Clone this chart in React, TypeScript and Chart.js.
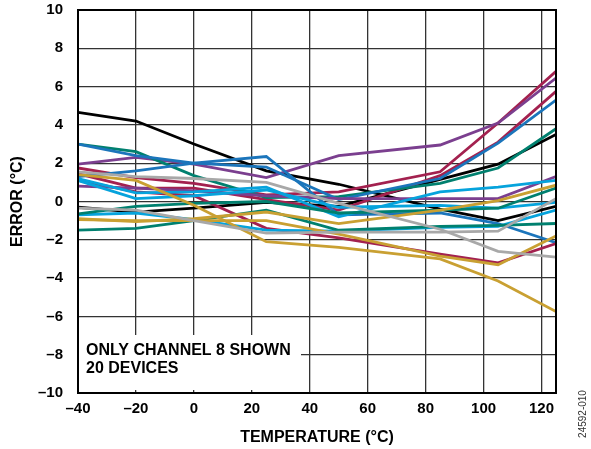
import React, { useEffect, useRef } from "react";
import { Chart, registerables } from "chart.js";

Chart.register(...registerables);

// Temperatures (°C) at which each device was measured
const temperatures = [-40, -20, 0, 25, 50, 85, 105, 125];

// Axis tick values
const xTickValues = [-40, -20, 0, 20, 40, 60, 80, 100, 120];
const yTickValues = [-10, -8, -6, -4, -2, 0, 2, 4, 6, 8, 10];

// Error (°C) per device
const black1 = [4.65, 4.2, 3.0, 1.6, 0.9, -0.4, -1.0, -0.25];
const black2 = [-0.3, -0.55, -0.35, -0.05, -0.25, 1.15, 1.95, 3.5];
const purple1 = [1.95, 2.3, 1.95, 1.25, 2.4, 2.95, 4.1, 6.45];
const purple2 = [0.8, 0.7, 0.55, 0.3, 0.15, 0.15, 0.15, 1.3];
const blue1 = [3.0, 2.4, 2.0, 2.35, -0.7, -0.6, -1.15, -2.15];
const blue2 = [1.3, 1.6, 2.0, 1.8, 0.1, 1.2, 3.05, 5.3];
const teal1 = [3.0, 2.6, 1.35, 0.2, 0.25, 0.95, 1.75, 3.8];
const teal2 = [-1.5, -1.4, -1.0, -0.45, -1.5, -1.3, -1.25, -1.15];
const teal3 = [-0.65, -0.25, -0.1, 0.0, -0.6, -0.45, -0.35, 0.7];
const crimson1 = [1.75, 1.25, 0.95, 0.35, 0.5, 1.55, 4.1, 6.8];
const crimson2 = [1.45, 0.7, 0.7, 0.1, -0.45, 1.35, 3.1, 5.75];
const crimson3 = [1.1, 0.5, 0.3, -1.4, -1.9, -2.75, -3.2, -2.2];
const gray1 = [1.55, 1.3, 1.2, 1.0, -0.1, -1.45, -2.6, -2.9];
const gray2 = [-0.35, -0.45, -1.0, -1.65, -1.6, -1.6, -1.55, 0.15];
const gold1 = [1.4, 1.1, -0.2, -2.1, -2.4, -3.0, -4.15, -5.75];
const gold2 = [-0.9, -1.05, -0.9, -0.55, -1.15, -0.45, 0.05, 0.85];
const gold3 = [-0.95, -1.0, -1.0, -1.0, -1.7, -2.85, -3.3, -1.8];
const lightBlue1 = [1.2, 0.45, 0.5, 0.75, -0.8, 0.5, 0.75, 1.1];
const lightBlue2 = [1.1, 0.15, 0.3, 0.6, -0.3, -0.2, -0.35, -0.05];
const lightBlue3 = [-0.7, -0.6, -0.95, -1.5, -1.55, -1.35, -1.3, -0.45];

const BLACK = "#000000";
const PURPLE = "#7b3f8f";
const BLUE = "#1b75bb";
const TEAL = "#00806f";
const CRIMSON = "#a3214f";
const GRAY = "#a8a8a8";
const GOLD = "#c9a032";
const LIGHTBLUE = "#06a3dc";

const seriesList: [number[], string][] = [
  [gray1, GRAY],
  [gray2, GRAY],
  [gold1, GOLD],
  [gold2, GOLD],
  [gold3, GOLD],
  [teal2, TEAL],
  [teal3, TEAL],
  [lightBlue1, LIGHTBLUE],
  [lightBlue2, LIGHTBLUE],
  [lightBlue3, LIGHTBLUE],
  [purple2, PURPLE],
  [crimson3, CRIMSON],
  [blue1, BLUE],
  [blue2, BLUE],
  [teal1, TEAL],
  [crimson2, CRIMSON],
  [black2, BLACK],
  [purple1, PURPLE],
  [crimson1, CRIMSON],
  [black1, BLACK],
];

const FONT = '"Liberation Sans", Arial, Helvetica, sans-serif';
const fmt = (v: number) => (v < 0 ? "\u2013" + Math.abs(v) : String(v));

const overlayPlugin = {
  id: "overlay",
  afterDatasetsDraw(chart: any) {
    const { ctx, chartArea } = chart;
    ctx.save();
    ctx.fillStyle = "#ffffff";
    ctx.fillRect(chartArea.left + 1, 335, 222, 55);
    ctx.fillStyle = "#000";
    ctx.font = `bold 16px ${FONT}`;
    ctx.textBaseline = "middle";
    ctx.textAlign = "left";
    ctx.fillText("ONLY CHANNEL 8 SHOWN", 86, 351);
    ctx.fillText("20 DEVICES", 86, 369);
    ctx.restore();
  },
  afterDraw(chart: any) {
    const { ctx, chartArea } = chart;
    ctx.save();
    ctx.strokeStyle = "#000";
    ctx.lineWidth = 2;
    ctx.strokeRect(
      chartArea.left,
      chartArea.top,
      chartArea.right - chartArea.left,
      chartArea.bottom - chartArea.top
    );
    ctx.translate(583, 414);
    ctx.rotate(-Math.PI / 2);
    ctx.fillStyle = "#333";
    ctx.font = `10px ${FONT}`;
    ctx.textAlign = "center";
    ctx.textBaseline = "middle";
    ctx.fillText("24592-010", 0, 0);
    ctx.restore();
  },
};

export default function App() {
  const canvasRef = useRef<HTMLCanvasElement | null>(null);

  useEffect(() => {
    if (!canvasRef.current) return;
    const chart = new Chart(canvasRef.current, {
      type: "line",
      data: {
        datasets: seriesList.map(([vals, color]) => ({
          data: temperatures.map((t, i) => ({ x: t, y: vals[i] })),
          borderColor: color,
          backgroundColor: color,
          borderWidth: 2.8,
          pointRadius: 0,
          tension: 0,
          fill: false,
        })),
      },
      options: {
        animation: false,
        responsive: false,
        devicePixelRatio: 1,
        layout: { padding: { left: 0, right: 35, top: 10, bottom: 0 } },
        plugins: {
          legend: { display: false },
          tooltip: { enabled: false },
        },
        scales: {
          x: {
            type: "linear",
            min: -40,
            max: 125,
            afterBuildTicks: (s: any) => {
              s.ticks = xTickValues.map((v) => ({ value: v }));
            },
            afterFit: (s: any) => {
              s.height = 56;
              s.paddingLeft = 0;
              s.paddingRight = 0;
            },
            grid: { color: "#333", lineWidth: 1.3, drawTicks: false },
            border: { display: false },
            ticks: {
              padding: 7,
              autoSkip: false,
              maxRotation: 0,
              color: "#000",
              font: { family: FONT, size: 15, weight: "bold" },
              callback: (v: any) => fmt(Number(v)),
            },
            title: {
              display: true,
              text: "TEMPERATURE (°C)",
              color: "#000",
              font: { family: FONT, size: 16, weight: "bold" },
              padding: { top: 0, bottom: 2 },
            },
          },
          y: {
            type: "linear",
            min: -10,
            max: 10,
            afterBuildTicks: (s: any) => {
              s.ticks = yTickValues.map((v) => ({ value: v }));
            },
            afterFit: (s: any) => {
              s.width = 78;
              s.paddingTop = 0;
              s.paddingBottom = 0;
            },
            grid: { color: "#333", lineWidth: 1.3, drawTicks: false },
            border: { display: false },
            ticks: {
              padding: 15,
              autoSkip: false,
              color: "#000",
              font: { family: FONT, size: 15, weight: "bold" },
              callback: (v: any) => fmt(Number(v)),
            },
            title: {
              display: true,
              text: "ERROR (°C)",
              color: "#000",
              font: { family: FONT, size: 16, weight: "bold" },
              padding: { top: 8, bottom: 0 },
            },
          },
        },
      },
      plugins: [overlayPlugin],
    } as any);
    return () => chart.destroy();
  }, []);

  return (
    <div style={{ position: "absolute", left: 0, top: 0, width: 591, height: 449 }}>
      <canvas ref={canvasRef} width={591} height={449} />
    </div>
  );
}
